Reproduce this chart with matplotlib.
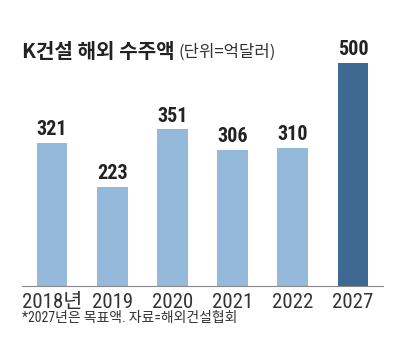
import matplotlib
matplotlib.use("Agg")
import matplotlib.pyplot as plt
from matplotlib import font_manager

# Data
years = ["2018년", "2019", "2020", "2021", "2022", "2027"]
values = [321, 223, 351, 306, 310, 500]
colors = ["#94b9da"] * 5 + ["#3e6990"]


def pick(cands):
    have = {f.name for f in font_manager.fontManager.ttflist}
    for c in cands:
        if c in have:
            return c
    return "DejaVu Sans"


narrow = pick(["Roboto Condensed", "Archivo Narrow", "PT Sans Narrow",
               "Liberation Sans Narrow", "Open Sans Condensed"])
NARROW = [narrow, "Noto Sans CJK KR", "DejaVu Sans"]
KR = ["Noto Sans CJK KR", "DejaVu Sans"]

W, H = 404, 354
fig = plt.figure(figsize=(W / 100, H / 100), dpi=100)
# axes in pixel terms: x 22..383, baseline at y=286
left, right = 22, 383
bottom, top = 286, 40
ax = fig.add_axes([left / W, 1 - bottom / H, (right - left) / W, (bottom - top) / H])

x = range(len(years))
ax.bar(x, values, width=0.51, color=colors)
ax.set_xlim(-0.5, 5.5)
ax.set_ylim(0, (bottom - top) / 0.446)

for xi, v in zip(x, values):
    ax.text(xi, v + 8, str(v), ha="center", va="bottom", fontsize=14.5,
            fontweight="bold", family=NARROW, color="#222222")

ax.set_xticks(list(x))
ax.set_xticklabels(years, family=NARROW, fontsize=15, color="#333333")
ax.tick_params(axis="x", length=0, pad=5)
ax.set_yticks([])
for s in ["top", "right", "left"]:
    ax.spines[s].set_visible(False)
ax.spines["bottom"].set_color("#888888")
ax.spines["bottom"].set_linewidth(0.8)

fig.text(22 / W, 1 - 52 / H, "K건설 해외 수주액", family=KR, fontsize=14.5,
         fontweight="bold", va="center", ha="left", color="#222222")
fig.text(178 / W, 1 - 52 / H, "(단위=억달러)", family=KR, fontsize=12,
         va="center", ha="left", color="#333333")
fig.text(22 / W, 1 - 318 / H, "*2027년은 목표액. 자료=해외건설협회", family=NARROW,
         fontsize=10, va="center", ha="left", color="#333333")

fig.savefig("out.png", dpi=100)
